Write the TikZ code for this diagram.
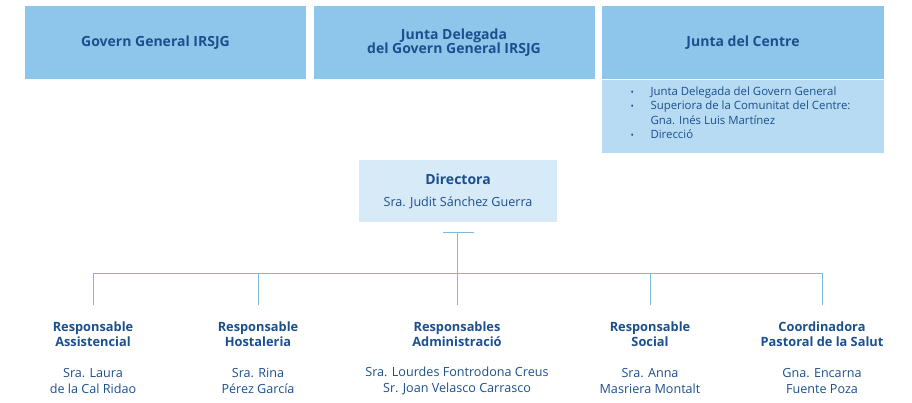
\documentclass[tikz,border=0pt]{standalone}
\usepackage{fontspec}
\setmainfont{Open Sans}
\usepackage{tikz}
\usetikzlibrary{positioning}
\definecolor{topblue}{RGB}{141,198,234}
\definecolor{paleblue}{RGB}{183,219,242}
\definecolor{dirblue}{RGB}{215,234,247}
\definecolor{inkblue}{RGB}{28,79,142}
\definecolor{wireblue}{RGB}{128,184,218}

\begin{document}
\begin{tikzpicture}[
    x=1pt, y=-1pt,
    line width=1pt,
    %
    govbox/.style={fill=topblue, inner sep=0pt, minimum width=281pt, minimum height=73pt,
                   text=inkblue, align=center, font=\bfseries\fontsize{14}{16.5}\selectfont},
    listbox/.style={fill=paleblue, inner sep=0pt, minimum width=282pt, minimum height=73pt},
    dirbox/.style={fill=dirblue, inner sep=0pt, minimum width=198pt, minimum height=62pt,
                   text=inkblue, align=center, font=\fontsize{12.6}{22}\selectfont},
    resptitle/.style={text=inkblue, align=center, inner sep=0pt, font=\bfseries\fontsize{12.8}{15}\selectfont},
    respname/.style={text=inkblue, align=center, inner sep=0pt, font=\fontsize{12.6}{16}\selectfont},
    wire/.style={draw=wireblue, line width=1pt}
    ]

    \useasboundingbox (0,0) rectangle (912,403);

    % governing bodies
    \node[govbox] (govern)  at (165.5,42.5) {Govern General IRSJG\hspace*{20pt}};
    \node[govbox] (junta)   at (454,42.5)   {Junta Delegada\\[-2pt]del Govern General IRSJG};
    \node[govbox, minimum width=282pt] (centre) at (743,42.5) {Junta del Centre};
    \node[listbox, below=0pt of centre] (members) {};
    \node[text=inkblue, align=left, anchor=north west, inner sep=0pt,
          font=\fontsize{11.4}{14.3}\selectfont] (memberlist) at (630,86.5)
        {\makebox[20pt][l]{\small•}Junta Delegada del Govern General\\
         \makebox[20pt][l]{\small•}Superiora de la Comunitat del Centre:\\
         \hspace*{20pt}Gna. Inés Luis Martínez\\
         \makebox[20pt][l]{\small•}Direcció};

    % directora
    \node[dirbox] (dir) at (458,191) {\textbf{\fontsize{14}{15}\selectfont Directora}\\Sra. Judit Sánchez Guerra};

    \coordinate (stemL) at (443,233);
    \coordinate (stemR) at (474,233);
    \coordinate (stem)  at (457,233);
    \coordinate (barL)  at (93,273);
    \coordinate (barR)  at (822,273);
    \draw[wire] (stemL) -- (stemR);
    \draw[wire] (barL) -- (barR);

    % responsables
    \foreach \i/\x/\title/\who in {
        1/93/{Responsable\\Assistencial}/{Sra. Laura\\de la Cal Ridao},
        2/258/{Responsable\\Hostaleria}/{Sra. Rina\\Pérez García},
        3/457/{Responsables\\Administració}/{Sra. Lourdes Fontrodona Creus\\Sr. Joan Velasco Carrasco},
        4/650/{Responsable\\Social}/{Sra. Anna\\Masriera Montalt},
        5/822/{Coordinadora\\Pastoral de la Salut}/{Gna. Encarna\\Fuente Poza}}
    {
        \coordinate (drop\i) at (\x,305);
        \node[resptitle] (resp\i) at (\x,334.5) {\title};
        \node[respname]  (name\i) at (\x,381)   {\who};
        \draw[wire] (\x,273) -- (drop\i);
    }
    \draw[wire] (stem) -- (drop3);
    %
\end{tikzpicture}
\end{document}
